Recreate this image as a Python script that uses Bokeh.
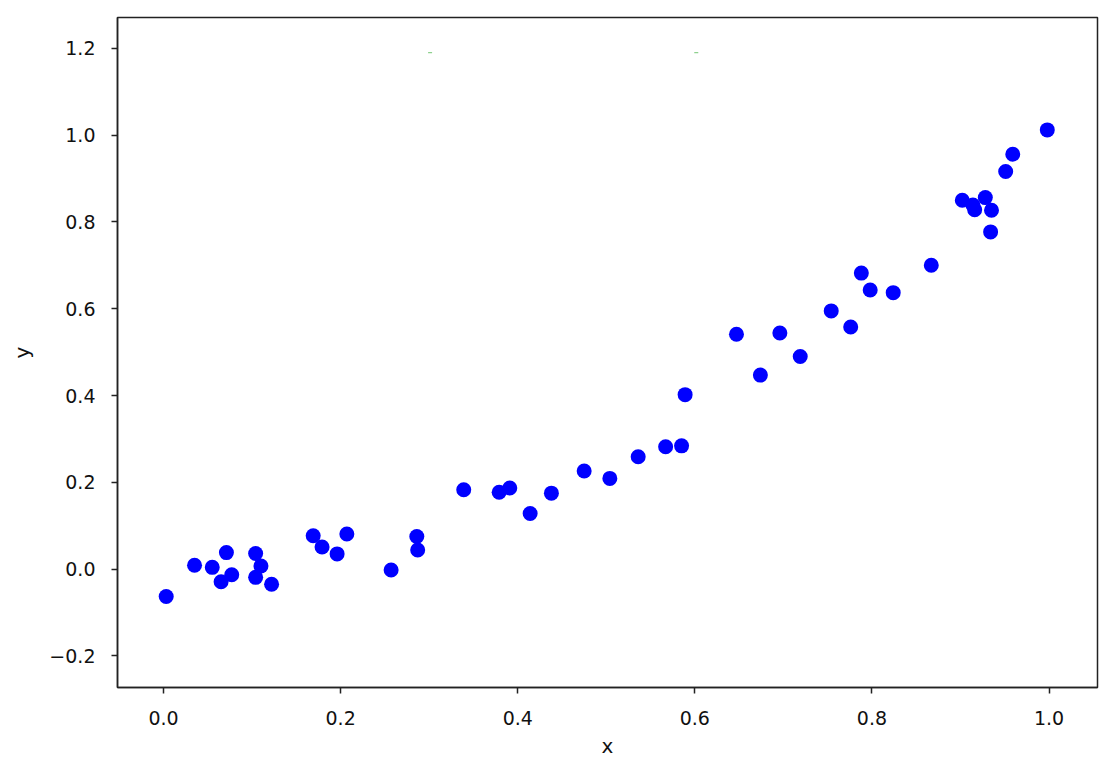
from bokeh.plotting import figure
from bokeh.models import Range1d, FixedTicker
from bokeh.embed import file_html
from bokeh.resources import INLINE

# data
x_vals = [0.003, 0.035, 0.055, 0.071, 0.065, 0.077, 0.104, 0.110, 0.104, 0.122,
          0.169, 0.179, 0.196, 0.207, 0.257, 0.286, 0.287, 0.339, 0.379, 0.391,
          0.414, 0.438, 0.475, 0.504, 0.536, 0.567, 0.585, 0.589, 0.647, 0.674,
          0.696, 0.719, 0.754, 0.776, 0.788, 0.798, 0.824, 0.867, 0.902, 0.914,
          0.916, 0.928, 0.935, 0.934, 0.951, 0.959, 0.998]
y_vals = [-0.063, 0.009, 0.004, 0.038, -0.029, -0.013, 0.036, 0.007, -0.019, -0.035,
          0.077, 0.051, 0.035, 0.081, -0.002, 0.075, 0.044, 0.183, 0.177, 0.187,
          0.128, 0.175, 0.226, 0.209, 0.259, 0.282, 0.284, 0.402, 0.541, 0.447,
          0.544, 0.490, 0.595, 0.558, 0.682, 0.643, 0.637, 0.700, 0.850, 0.839,
          0.828, 0.856, 0.827, 0.777, 0.916, 0.956, 1.012]

mark_x = [0.301, 0.6016]
mark_y = [1.19, 1.19]

x_ticks = [0.0, 0.2, 0.4, 0.6, 0.8, 1.0]
x_tick_labels = ["0.0", "0.2", "0.4", "0.6", "0.8", "1.0"]
y_ticks = [-0.2, 0.0, 0.2, 0.4, 0.6, 0.8, 1.0, 1.2]
y_tick_labels = ["\u22120.2", "0.0", "0.2", "0.4", "0.6", "0.8", "1.0", "1.2"]

p = figure(width=1108, height=770, output_backend="svg", toolbar_location=None,
           x_range=Range1d(-0.052, 1.0547), y_range=Range1d(-0.2728, 1.271),
           min_border_left=117, min_border_right=11, min_border_top=17,
           min_border_bottom=83)
p.grid.visible = False
p.outline_line_color = "#222222"
p.outline_line_width = 1.5
p.background_fill_color = "white"
p.border_fill_color = "white"

p.scatter(x_vals, y_vals, size=15, fill_color="#0000ff", line_color="#0000ff", line_width=0)
p.scatter(mark_x, mark_y, marker="dash", size=4, line_color="#8fd18f", line_width=1.3)

p.xaxis.ticker = FixedTicker(ticks=x_ticks)
p.yaxis.ticker = FixedTicker(ticks=y_ticks)
p.xaxis.major_label_overrides = {t: l for t, l in zip(x_ticks, x_tick_labels)}
p.yaxis.major_label_overrides = {t: l for t, l in zip(y_ticks, y_tick_labels)}

p.xaxis.axis_label = "x"
p.yaxis.axis_label = "y"
for ax in (p.xaxis, p.yaxis):
    ax.axis_line_color = "#222222"
    ax.axis_line_width = 1.5
    ax.major_tick_line_color = "#222222"
    ax.major_tick_line_width = 1.5
    ax.major_tick_out = 6
    ax.major_tick_in = 0
    ax.minor_tick_line_color = None
    ax.major_label_text_font = "DejaVu Sans"
    ax.major_label_text_font_size = "19px"
    ax.major_label_text_color = "#111111"
    ax.axis_label_text_font = "DejaVu Sans"
    ax.axis_label_text_font_size = "20px"
    ax.axis_label_text_font_style = "normal"
    ax.axis_label_text_color = "#111111"
p.xaxis.major_label_standoff = 17
p.yaxis.major_label_standoff = 16
p.xaxis.axis_label_standoff = 6
p.yaxis.axis_label_standoff = 12

open("out.html", "w").write(file_html(p, INLINE))
